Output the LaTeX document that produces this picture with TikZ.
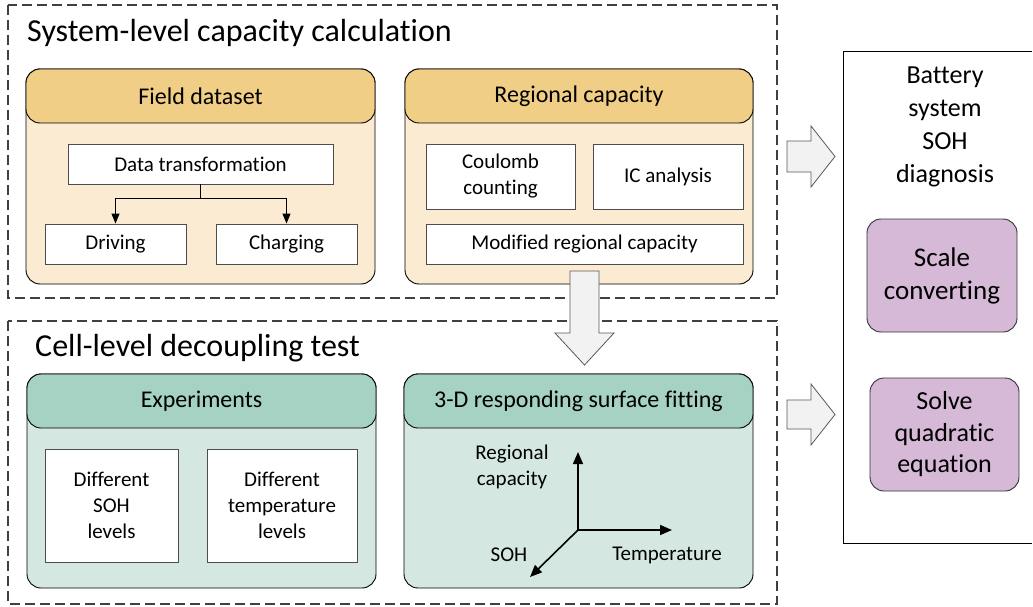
\documentclass[tikz,border=0pt]{standalone}
\usepackage{fontspec}
\setmainfont{Carlito}[Ligatures=NoCommon]
\usetikzlibrary{arrows.meta}
\definecolor{goldhead}{RGB}{240,206,133}
\definecolor{goldbody}{RGB}{250,235,210}
\definecolor{greenhead}{RGB}{166,210,196}
\definecolor{greenbody}{RGB}{212,232,225}
\definecolor{purplebox}{RGB}{213,185,215}
\definecolor{arrowfill}{RGB}{242,242,242}
\tikzset{
  dashframe/.style={draw=black!75, line width=1.2pt, dash pattern=on 10pt off 5pt},
  panel/.style={draw=black, line width=0.9pt, rounded corners=14pt, inner sep=0pt},
  headtext/.style={font=\fontsize{24}{28}\selectfont},
  whitebox/.style={draw=black!70, fill=white, line width=0.9pt, align=center,
    font=\fontsize{21}{26}\selectfont, inner sep=0pt},
  plain/.style={align=center, font=\fontsize{21}{26}\selectfont, inner sep=0pt},
  titletext/.style={font=\fontsize{32}{38}\selectfont, anchor=west, inner sep=0pt},
  purple/.style={draw=black!80, fill=purplebox, line width=0.9pt, rounded corners=14pt,
    align=center, font=\fontsize{27}{33}\selectfont, inner sep=0pt},
  blockarrow/.style={fill=arrowfill, draw=black!65, line width=0.8pt, line join=miter},
  flow/.style={draw=black, line width=1pt, -{Triangle[length=10pt,width=8pt]}},
  axis/.style={draw=black, line width=1.6pt, -{Triangle[length=12pt,width=10pt]}}
}
\begin{document}
\begin{tikzpicture}[x=1pt,y=-1pt]
\useasboundingbox (0,0) rectangle (1033,607);
\fill[white] (0,0) rectangle (1033,607);

% ---------- system-level frame ----------
\draw[dashframe] (8,5) rectangle (777,298);
\node[titletext] (systitle) at (27,33) {System-level capacity calculation};

% Field dataset panel
\node[panel, fill=goldbody, minimum width=349pt, minimum height=215pt] (fd) at (200.5,176.5) {};
\node[panel, fill=goldhead, minimum width=349pt, minimum height=54pt, headtext] (fdh) at (200.5,96) {Field dataset};
\node[whitebox, minimum width=265pt, minimum height=40pt] (dt) at (200.5,164) {Data transformation};
\node[whitebox, minimum width=141pt, minimum height=40pt] (drv) at (115.5,244) {Driving};
\node[whitebox, minimum width=141pt, minimum height=40pt] (chg) at (286.5,244) {Charging};
\draw[flow] (dt.south) -- ++(0,14) -| (drv.north);
\draw[flow] (dt.south) -- ++(0,14) -| (chg.north);

% Regional capacity panel
\node[panel, fill=goldbody, minimum width=348pt, minimum height=215pt] (rc) at (579,176.5) {};
\node[panel, fill=goldhead, minimum width=348pt, minimum height=54pt, headtext] (rch) at (579,96) {Regional capacity};
\node[whitebox, minimum width=149pt, minimum height=65pt] (cc) at (500.5,176.5) {Coulomb\\counting};
\node[whitebox, minimum width=150pt, minimum height=65pt] (ic) at (668,176.5) {IC analysis};
\node[whitebox, minimum width=317pt, minimum height=40pt] (mrc) at (584.5,244) {Modified regional capacity};

% ---------- cell-level frame ----------
\draw[dashframe] (8,321) rectangle (777,604);
\node[titletext] (celltitle) at (35,348) {Cell-level decoupling test};

% Experiments panel
\node[panel, fill=greenbody, minimum width=349pt, minimum height=214pt] (ex) at (201.5,481) {};
\node[panel, fill=greenhead, minimum width=349pt, minimum height=54pt, headtext] (exh) at (201.5,401) {Experiments};
\node[whitebox, minimum width=133pt, minimum height=113pt] (dsoh) at (111.5,505.5) {Different\\SOH\\levels};
\node[whitebox, minimum width=150pt, minimum height=113pt] (dtemp) at (282,505.5) {Different\\temperature\\levels};

% 3-D surface fitting panel
\node[panel, fill=greenbody, minimum width=349pt, minimum height=214pt] (sf) at (578.5,481) {};
\node[panel, fill=greenhead, minimum width=349pt, minimum height=54pt, headtext] (sfh) at (578.5,401) {3-D responding surface fitting};
\coordinate (o) at (578,530);
\coordinate (zax) at (578,452);
\coordinate (tax) at (672,530);
\coordinate (sax) at (530,577);
\draw[axis] (o) -- (zax);
\draw[axis] (o) -- (tax);
\draw[axis] (o) -- (sax);
\node[plain] (lrc) at (512,467) {Regional\\capacity};
\node[plain] (lsoh) at (509,555) {SOH};
\node[plain] (ltemp) at (667,555) {Temperature};

% ---------- battery system SOH diagnosis ----------
\draw[draw=black, line width=0.9pt] (1032,51) -- (843,51) -- (843,543) -- (1032,543);
\node[align=center, inner sep=0pt, font=\fontsize{26}{33}\selectfont] (diag) at (945,127) {Battery\\system\\SOH\\diagnosis};
\node[purple, minimum width=150pt, minimum height=113pt] (scale) at (942,275.5) {Scale\\converting};
\node[purple, minimum width=149pt, minimum height=113pt, font=\fontsize{26}{31.5}\selectfont] (solve) at (944.5,434.5) {Solve\\quadratic\\equation};

% ---------- block arrows ----------
\draw[blockarrow] (570,271) -- (599,271) -- (599,333) -- (614,333) -- (584.5,365)
  -- (555,333) -- (570,333) -- cycle;
\draw[blockarrow] (787,141) -- (811,141) -- (811,126) -- (835,156.5) -- (811,187)
  -- (811,172) -- (787,172) -- cycle;
\draw[blockarrow] (787,400) -- (811,400) -- (811,384) -- (835,414.5) -- (811,445)
  -- (811,429) -- (787,429) -- cycle;
\end{tikzpicture}
\end{document}
